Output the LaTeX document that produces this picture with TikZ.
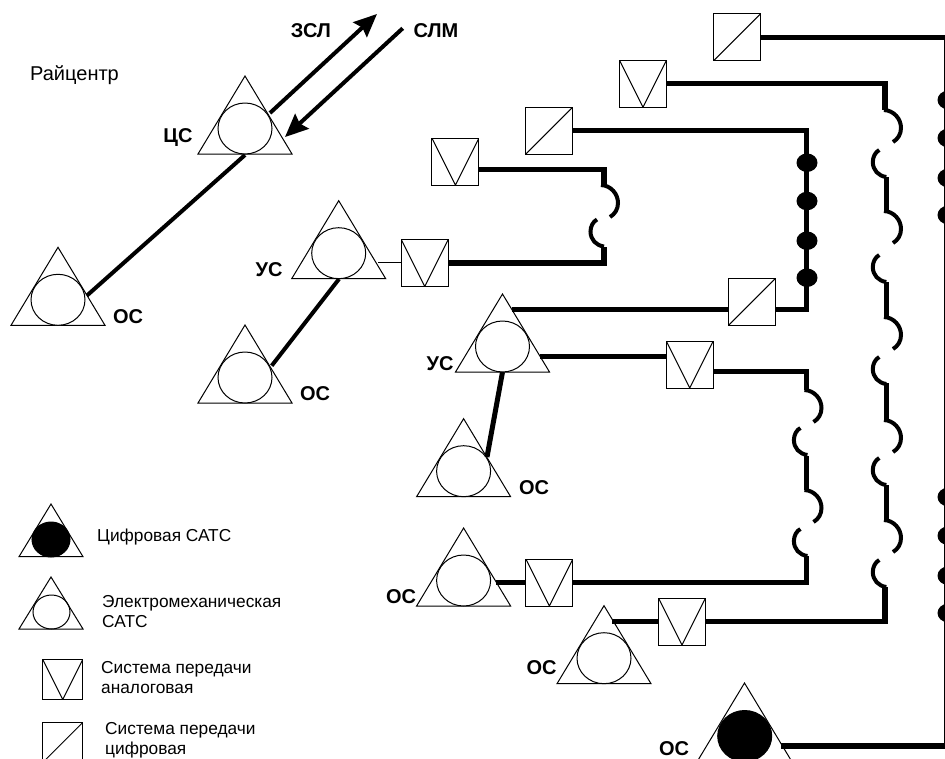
\documentclass[tikz,border=0pt]{standalone}
\usepackage{fontspec}
\setmainfont{Liberation Sans}
\usetikzlibrary{arrows.meta,shapes.geometric}
\tikzset{
  thinline/.style={line width=1pt,draw=black},
  heavy/.style={line width=5.5pt,draw=black,line join=miter},
  medium/.style={line width=4pt,draw=black},
  arrowline/.style={line width=4pt,draw=black,-{Stealth[length=23pt,width=20pt,inset=3pt]}},
  sysbox/.style={thinline,fill=white,rectangle,inner sep=0pt,minimum size=#1},
  sysbox/.default=47pt,
  analog/.style={sysbox=#1,path picture={\draw[thinline] (path picture bounding box.north west)--(path picture bounding box.south)--(path picture bounding box.north east);}},
  analog/.default=47pt,
  digital/.style={sysbox=#1,path picture={\draw[thinline] (path picture bounding box.south west)--(path picture bounding box.north east);}},
  digital/.default=47pt,
  dot/.style={fill=black,draw=none,ellipse,minimum width=21pt,minimum height=18.5pt,inner sep=0pt},
  bigcircle/.style={thinline,ellipse,inner sep=0pt,minimum width=54pt,minimum height=51pt},
  label/.style={font=\bfseries\fontsize{20}{22}\selectfont,inner sep=0pt},
  legend/.style={font=\fontsize{17.3}{20}\selectfont,inner sep=0pt,anchor=west,align=left},
  hopright/.pic={\draw[line width=4pt] (0,0) .. controls (10,0.5) and (17,9) .. (17,18) .. controls (17,24) and (14,29) .. (9,32);},
  hopleft/.pic={\draw[line width=4pt] (0,0) .. controls (-4,2) and (-6.5,7) .. (-6.5,12) .. controls (-6.5,20) and (-1,26) .. (7,27);},
}
% apex x, apex y, name, circle fill
\newcommand{\station}[4]{%
  \draw[thinline,line join=miter] (#1,#2) -- (#1+47,#2+78) -- (#1-47,#2+78) -- cycle;
  \node[bigcircle,fill=#4] (#3) at (#1,#2+52.5) {};
}
\begin{document}
\begin{tikzpicture}[x=1pt,y=-1pt]
\clip (0,0) rectangle (945,758);
\fill[white] (0,0) rectangle (945,758);

% boxes
\node[digital] (d1) at (737,37.3) {};
\node[analog]  (a1) at (643,83.7) {};
\node[digital] (d2) at (549.4,130.5) {};
\node[analog]  (a2) at (455.4,161.6) {};
\node[analog]  (a3) at (424.7,263) {};
\node[digital] (d3) at (752.4,301.5) {};
\node[analog]  (a4) at (689.7,364.5) {};
\node[analog]  (a5) at (549.4,582.5) {};
\node[analog]  (a6) at (682,621.5) {};

% stations
\station{58}{247.3}{os1}{white}
\station{245}{76}{cs}{white}
\station{338.7}{200.7}{us1}{white}
\station{245}{325}{os2}{white}
\station{502.5}{294}{us2}{white}
\station{463.6}{418.7}{os3}{white}
\station{463.6}{528}{os4}{white}
\station{604}{605.7}{os5}{white}
\draw[thinline] (744.5,683) -- (791.5,761) -- (697.5,761) -- cycle;
\node[bigcircle,fill=black] (os6) at (744.7,736) {};

% free ends of connectors
\coordinate (os1e) at (87,295.5);
\coordinate (csb) at (245,155);
\coordinate (zslS) at (270,113);
\coordinate (zslE) at (377,14);
\coordinate (slmS) at (402.7,28.3);
\coordinate (slmE) at (285,137);
\coordinate (us1b) at (339,279);
\coordinate (os2e) at (271.7,365.7);
\coordinate (us1e) at (378,262.5);
\coordinate (us2b) at (502.5,372);
\coordinate (os3e) at (487,457);
\coordinate (us2e1) at (511.7,309.7);
\coordinate (us2e2) at (540,356.7);
\coordinate (os4e) at (495.6,582.3);
\coordinate (os5e) at (612,621.7);
\coordinate (os6e) at (780.6,746);
\coordinate (bus) at (947,37.3);
\coordinate (busEnd) at (947,746);
\coordinate (jd2) at (806.7,309.7);

% station links and arrows
\draw[medium] (os1e) -- (csb);
\draw[arrowline] (zslS) -- (zslE);
\draw[arrowline] (slmS) -- (slmE);
\draw[medium] (us1b) -- (os2e);
\draw[line width=5pt] (us2b) -- (os3e);

% right-hand bus
\draw[heavy] (d1.east) -- (bus) -- (busEnd) -- (os6e);
\foreach \y in {100,138,178,215,497,535.7,575.7,613}
  \node[dot] (busdot\y) at (948,\y) {};

% digital loop
\draw[heavy] (d2.east) -| (jd2) -- (d3.east |- jd2);
\foreach \y [count=\i] in {162.7,201,240.7,277.7}
  \node[dot] (loopdot\i) at (807,\y) {};
\draw[heavy] (us2e1) -- (d3.west |- us2e1);

% analogue line a2-a3
\coordinate (a2j) at (604,185);
\coordinate (a3j) at (604,246.7);
\draw[heavy] (a2.east |- 0,169.7) -| (a2j);
\draw[heavy] (a3.east) -| (a3j);
\draw[line width=1.5pt] (us1e) -- (a3.west |- us1e);
\pic at (601,185) {hopright};
\pic at (597,219.5) {hopleft};

% analogue line a4-a5
\coordinate (a4j) at (806.7,390);
\coordinate (a4k) at (806.7,456);
\coordinate (a4l) at (806.7,490);
\coordinate (a4m) at (806.7,556);
\draw[heavy] (us2e2) -- (a4.west |- us2e2);
\draw[heavy] (a4.east |- 0,371.7) -| (a4j);
\draw[heavy] (a4k) -- (a4l);
\draw[heavy] (a5.east |- os4e) -| (a4m);
\draw[heavy] (os4e) -- (a5.west |- os4e);
\pic at (804.5,390) {hopright};
\pic at (800.4,428) {hopleft};
\pic at (804.5,490) {hopright};
\pic at (800.4,529) {hopleft};

% analogue line a1-a6
\coordinate (a1j) at (885,110);
\draw[heavy] (a1.east) -| (a1j);
\draw[heavy] (886.5,177) -- (886.5,212);
\draw[heavy] (886.5,282) -- (886.5,318);
\draw[heavy] (886.5,383) -- (886.5,421);
\draw[heavy] (886.5,485) -- (886.5,521);
\coordinate (a6j) at (885,587);
\draw[heavy] (a6.east |- os5e) -| (a6j);
\draw[heavy] (os5e) -- (a6.west |- os5e);
\foreach \y in {110,211,317,420,520}
  \pic at (884,\y) {hopright};
\foreach \y in {150,255,357,458,560}
  \pic at (879.3,\y) {hopleft};

% labels
\node[font=\fontsize{20}{22}\selectfont,inner sep=0pt] (rc) at (74.5,75) {Райцентр};
\node[label] (lz) at (311,31) {ЗСЛ};
\node[label] (ls) at (436,31) {СЛМ};
\node[label] (l1) at (178,138) {ЦС};
\node[label] (l2) at (128,317) {ОС};
\node[label] (l3) at (269,270) {УС};
\node[label] (l4) at (315,394) {ОС};
\node[label] (l5) at (440,364) {УС};
\node[label] (l6) at (534,488) {ОС};
\node[label] (l7) at (401,597) {ОС};
\node[label] (l8) at (541.5,668) {ОС};
\node[label] (l9) at (674,749) {ОС};

% legend
\draw[thinline] (51,504) -- (83,556.7) -- (19,556.7) -- cycle;
\node[thinline,fill=black,ellipse,inner sep=0pt,minimum width=38pt,minimum height=35pt] (lgc1) at (51,539.5) {};
\draw[thinline] (51,577) -- (83,629) -- (19,629) -- cycle;
\node[thinline,ellipse,inner sep=0pt,minimum width=37pt,minimum height=34pt] (lgc2) at (51.5,612) {};
\node[analog=40pt] (lga) at (62.7,679.5) {};
\node[digital=40pt] (lgd) at (62.7,742.5) {};
\node[legend] (t1) at (97,537) {Цифровая САТС};
\node[legend] (t2) at (102,612) {Электромеханическая\\САТС};
\node[legend] (t3) at (101,677.5) {Система передачи\\аналоговая};
\node[legend] (t4) at (105,740) {Система передачи\\цифровая};
\end{tikzpicture}
\end{document}
